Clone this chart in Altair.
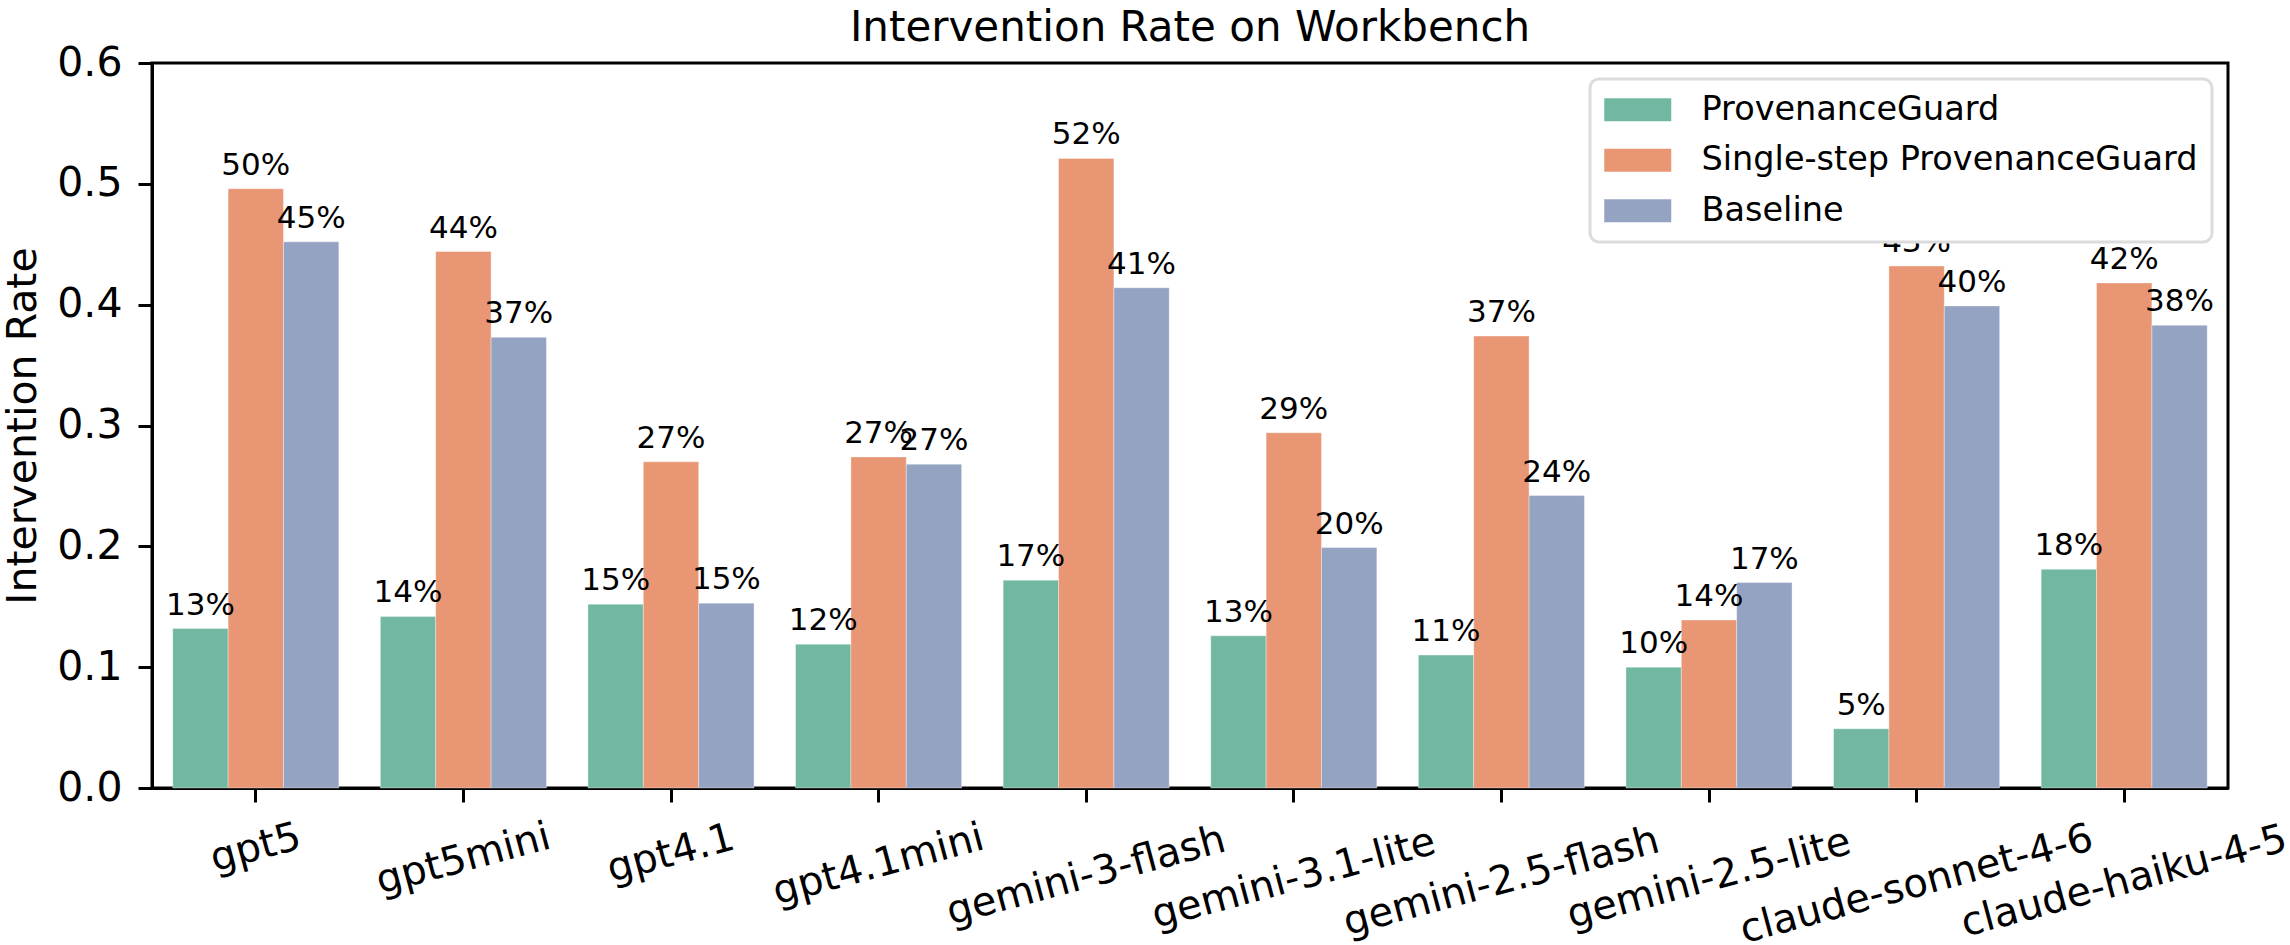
import altair as alt
import pandas as pd

models = ["gpt5", "gpt5mini", "gpt4.1", "gpt4.1mini", "gemini-3-flash",
          "gemini-3.1-lite", "gemini-2.5-flash", "gemini-2.5-lite",
          "claude-sonnet-4-6", "claude-haiku-4-5"]
series = ["ProvenanceGuard", "Single-step ProvenanceGuard", "Baseline"]
provenance_guard = [0.132, 0.142, 0.152, 0.119, 0.172, 0.126, 0.110, 0.100, 0.049, 0.181]
single_step = [0.496, 0.444, 0.270, 0.274, 0.521, 0.294, 0.374, 0.139, 0.432, 0.418]
baseline = [0.452, 0.373, 0.153, 0.268, 0.414, 0.199, 0.242, 0.170, 0.399, 0.383]
colors = ["#71b7a1", "#e99675", "#95a3c3"]
y_ticks = [0.0, 0.1, 0.2, 0.3, 0.4, 0.5, 0.6]
title_text = "Intervention Rate on Workbench"

rows = []
for name, vals in zip(series, [provenance_guard, single_step, baseline]):
    for m, v in zip(models, vals):
        rows.append({"model": m, "series": name, "value": v})
df = pd.DataFrame(rows)
labels_df = pd.DataFrame({"model": models})

FONT = "DejaVu Sans"

x_enc = alt.X("model:N", sort=models,
              scale=alt.Scale(paddingInner=0.2, paddingOuter=0.1),
              axis=alt.Axis(labels=False, title=None, ticks=True, tickSize=14,
                            tickWidth=3, tickColor="black", domain=True,
                            domainWidth=3, domainColor="black", grid=False))
xoff_enc = alt.XOffset("series:N", sort=series,
                       scale=alt.Scale(paddingInner=0, paddingOuter=0))
y_enc = alt.Y("value:Q",
              scale=alt.Scale(domain=[0, 0.6], nice=False, zero=True),
              axis=alt.Axis(values=y_ticks, format=".1f", title="Intervention Rate",
                            titleFontSize=41, titleFont=FONT, titleFontWeight="normal",
                            titleColor="black", titlePadding=12,
                            labelFontSize=41, labelFont=FONT, labelColor="black",
                            labelPadding=16, tickSize=14, tickWidth=3,
                            tickColor="black", domainWidth=3, domainColor="black",
                            grid=False))

bars = alt.Chart(df).mark_bar(stroke="white", strokeWidth=0.6, strokeOpacity=0.6).encode(
    x=x_enc,
    xOffset=xoff_enc,
    y=y_enc,
    color=alt.Color("series:N", sort=series,
                    scale=alt.Scale(domain=series, range=colors),
                    legend=alt.Legend(
                        title=None, orient="top-right", offset=16,
                        fillColor="white", strokeColor="#dcdcdc",
                        padding=14,
                        symbolType="M-2.03,-0.7H2.03V0.7H-2.03Z",
                        symbolSize=1089, symbolStrokeWidth=0, symbolOffset=17,
                        symbolOpacity=1,
                        labelFontSize=33.5, labelFont=FONT, labelColor="black",
                        labelOffset=47, rowPadding=15.5, labelLimit=1000)),
)

bar_labels = alt.Chart(df).mark_text(
    baseline="alphabetic", align="center", dy=-14, fontSize=31, font=FONT, color="black"
).encode(
    x=alt.X("model:N", sort=models),
    xOffset=alt.XOffset("series:N", sort=series),
    y=alt.Y("value:Q"),
    text=alt.Text("value:Q", format=".0%"),
)

shift = "(49 + 2.8*length(datum.model))"
x_labels = alt.Chart(labels_df).mark_text(
    angle=345, align="center", baseline="middle", fontSize=40, font=FONT, color="black",
    dx=alt.ExprRef(expr="-0.259*" + shift),
    dy=alt.ExprRef(expr="0.966*" + shift),
).encode(
    x=alt.X("model:N", sort=models),
    y=alt.datum(0),
    text="model:N",
)

chart = alt.layer(bars, bar_labels, x_labels).properties(
    width=2076,
    height=725,
    background="white",
    title=alt.TitleParams(title_text, fontSize=42, font=FONT,
                          fontWeight="normal", color="black", offset=-8,
                          anchor="middle"),
    autosize=alt.AutoSizeParams(type="none"),
    padding={"left": 152, "top": 63, "right": 62, "bottom": 157},
).configure_view(
    stroke="black", strokeWidth=3
).configure_legend(
    strokeWidth=3, cornerRadius=9
)

chart.save("out.html", embed_options={"renderer": "svg", "actions": False})
